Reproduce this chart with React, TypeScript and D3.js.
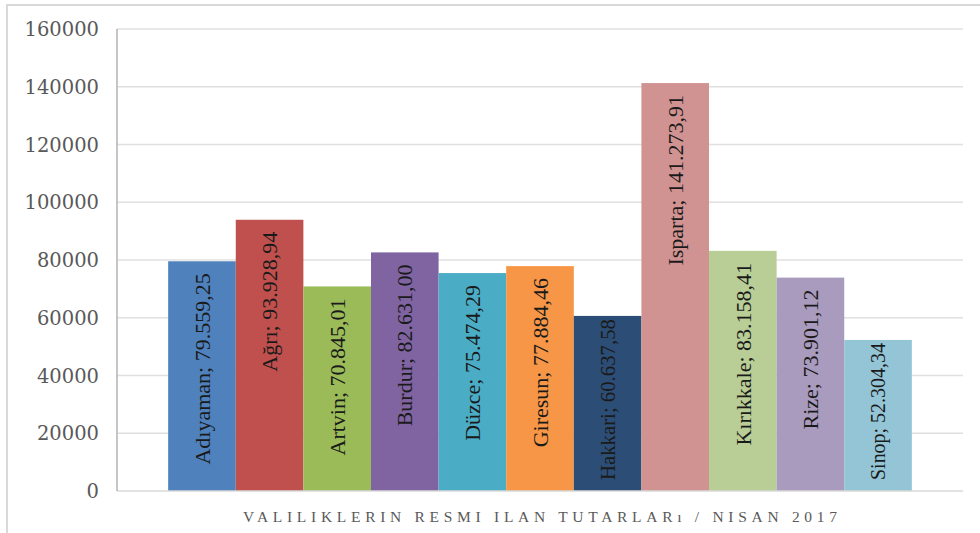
import React, { useEffect, useRef } from "react";
import * as d3 from "d3";

const provinces = ["Adıyaman", "Ağrı", "Artvin", "Burdur", "Düzce", "Giresun", "Hakkari", "Isparta", "Kırıkkale", "Rize", "Sinop"];
const amounts = [79559.25, 93928.94, 70845.01, 82631.0, 75474.29, 77884.46, 60637.58, 141273.91, 83158.41, 73901.12, 52304.34];
const valueLabels = ["79.559,25", "93.928,94", "70.845,01", "82.631,00", "75.474,29", "77.884,46", "60.637,58", "141.273,91", "83.158,41", "73.901,12", "52.304,34"];
const barColors = ["#4F81BD", "#C0504D", "#9BBB59", "#8064A2", "#4BACC6", "#F79646", "#2C4D75", "#D19392", "#B9CD96", "#A99BBD", "#93C5D7"];
const yTicks = [0, 20000, 40000, 60000, 80000, 100000, 120000, 140000, 160000];
const chartTitle = "VALILIKLERIN RESMI ILAN TUTARLARı / NISAN 2017";

const W = 980;
const H = 533;

export default function App() {
  const ref = useRef<SVGSVGElement | null>(null);

  useEffect(() => {
    const svg = d3.select(ref.current);
    svg.selectAll("*").remove();

    const left = 117, right = 963, top = 29, bottom = 491;
    const y = d3.scaleLinear().domain([0, 160000]).range([bottom, top]);
    const outer = d3.scaleBand<string>().domain(["Nisan 2017"]).range([left, right]).paddingInner(0).paddingOuter(0.0688);
    const x = d3.scaleBand<string>().domain(provinces)
      .range([outer("Nisan 2017")!, outer("Nisan 2017")! + outer.bandwidth()]).padding(0);

    // outer border
    svg.append("rect").attr("x", 7).attr("y", 5).attr("width", 990).attr("height", 560)
      .attr("fill", "none").attr("stroke", "#d9d9d9").attr("stroke-width", 2);

    // gridlines
    svg.append("g").selectAll("line").data(yTicks.filter(t => t > 0)).join("line")
      .attr("x1", left).attr("x2", right)
      .attr("y1", d => y(d)).attr("y2", d => y(d))
      .attr("stroke", "#e0e0e0").attr("stroke-width", 1.5);

    // y tick labels
    svg.append("g").selectAll("text").data(yTicks).join("text")
      .attr("x", 99).attr("y", d => y(d))
      .attr("dy", "0.36em")
      .attr("text-anchor", "end")
      .attr("font-family", "'DejaVu Serif', serif")
      .attr("font-size", 19.5)
      .attr("fill", "#595959")
      .text(d => String(d));

    // bars
    svg.append("g").selectAll("rect").data(provinces).join("rect")
      .attr("x", d => x(d)!)
      .attr("width", x.bandwidth())
      .attr("y", (d, i) => y(amounts[i]))
      .attr("height", (d, i) => bottom - y(amounts[i]))
      .attr("fill", (d, i) => barColors[i]);

    // axes lines
    svg.append("line").attr("x1", left).attr("x2", right).attr("y1", bottom).attr("y2", bottom)
      .attr("stroke", "#d9d9d9").attr("stroke-width", 1.5);
    svg.append("line").attr("x1", left).attr("x2", left).attr("y1", top).attr("y2", bottom)
      .attr("stroke", "#b3b3b3").attr("stroke-width", 1.5);

    // bar labels (rotated, inside end)
    const labels = svg.append("g");
    provinces.forEach((p, i) => {
      const cx = x(p)! + x.bandwidth() / 2;
      const barTop = y(amounts[i]);
      const barH = bottom - barTop;
      const t = labels.append("text")
        .attr("font-family", "'Liberation Serif', 'Times New Roman', serif")
        .attr("font-size", 22)
        .attr("fill", "#1a1a1a")
        .attr("text-anchor", "start")
        .attr("dy", "0.35em")
        .text(`${p}; ${valueLabels[i]}`);
      let len = (t.node() as SVGTextElement).getComputedTextLength();
      const avail = barH - 14;
      if (len > avail) {
        t.attr("font-size", 22 * avail / len);
        len = avail;
      }
      const start = Math.min(barTop + 12, bottom - 11 - len);
      const yStart = start + len;
      t.attr("transform", `translate(${cx},${yStart}) rotate(-90)`);
    });

    // title
    svg.append("text")
      .attr("x", (left + right) / 2)
      .attr("y", 522)
      .attr("text-anchor", "middle")
      .attr("font-family", "'Liberation Serif', serif")
      .attr("font-size", 15.5)
      .attr("fill", "#595959")
      .attr("textLength", 594)
      .attr("lengthAdjust", "spacing")
      .text(chartTitle);
  }, []);

  return (
    <svg ref={ref} width={W} height={H} style={{ display: "block", position: "absolute", left: 0, top: 0 }} />
  );
}
